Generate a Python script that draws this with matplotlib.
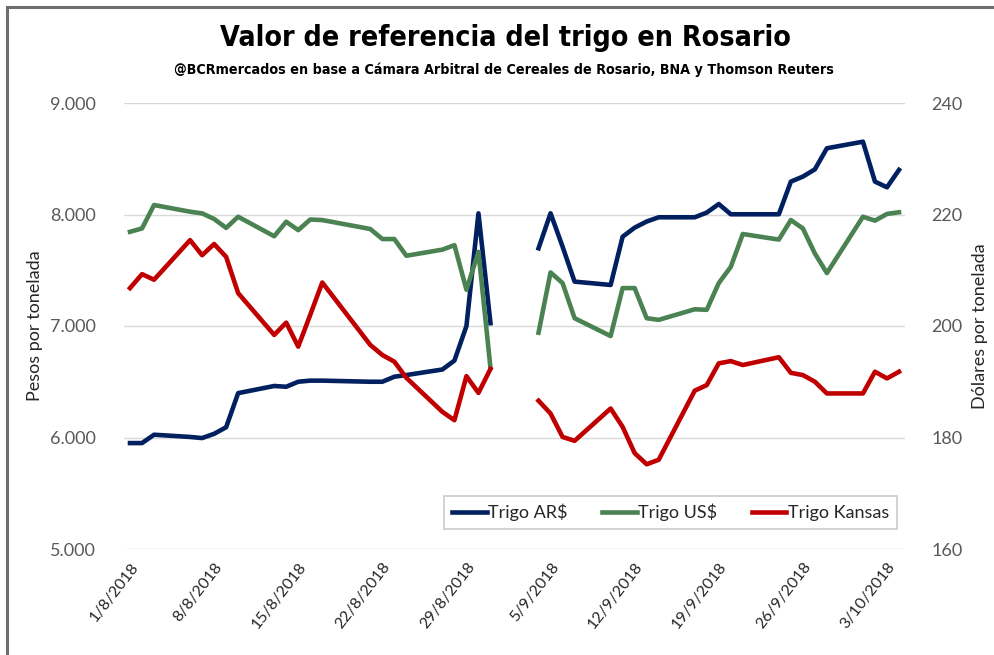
import numpy as np
import pandas as pd
import matplotlib
matplotlib.use("Agg")
import matplotlib.pyplot as plt
from matplotlib.lines import Line2D
from matplotlib.ticker import FuncFormatter

# business days shown in the chart (20/8 holiday, 3/9 no data -> gap)
FECHAS = ["1/8/2018", "2/8/2018", "3/8/2018", "6/8/2018", "7/8/2018", "8/8/2018",
          "9/8/2018", "10/8/2018", "13/8/2018", "14/8/2018", "15/8/2018", "16/8/2018",
          "17/8/2018", "21/8/2018", "22/8/2018", "23/8/2018", "24/8/2018", "27/8/2018",
          "28/8/2018", "29/8/2018", "30/8/2018", "31/8/2018", "3/9/2018",
          "4/9/2018", "5/9/2018", "6/9/2018", "7/9/2018", "10/9/2018", "11/9/2018",
          "12/9/2018", "13/9/2018", "14/9/2018", "17/9/2018", "18/9/2018", "19/9/2018",
          "20/9/2018", "21/9/2018", "24/9/2018", "25/9/2018", "26/9/2018", "27/9/2018",
          "28/9/2018", "1/10/2018", "2/10/2018", "3/10/2018", "4/10/2018"]

TRIGO_ARS = [5950, 5950, 6025, 6005, 5995, 6033, 6092, 6398, 6462, 6455, 6500, 6510,
             6510, 6500, 6500, 6545, 6560, 6610, 6690, 7000, 8010, 7025, np.nan,
             7697, 8011, 7712, 7398, 7368, 7801, 7882, 7937, 7975, 7975, 8017, 8094,
             8002, 8002, 8002, 8295, 8340, 8405, 8594, 8653, 8295, 8244, 8400]

TRIGO_USS = [216.9, 217.5, 221.7, 220.5, 220.2, 219.2, 217.6, 219.6, 216.1, 218.7,
             217.2, 219.1, 219.0, 217.4, 215.6, 215.6, 212.6, 213.7, 214.5, 206.5,
             213.3, 192.5, np.nan,
             198.8, 209.6, 207.7, 201.4, 198.2, 206.8, 206.8, 201.4, 201.1, 203.0,
             202.9, 207.7, 210.6, 216.5, 215.5, 219.0, 217.5, 213.0, 209.5, 219.6,
             218.9, 220.1, 220.4]

TRIGO_KANSAS = [206.8, 209.3, 208.3, 215.4, 212.7, 214.7, 212.4, 205.9, 198.4, 200.6,
                196.3, 202.0, 207.8, 196.6, 194.8, 193.6, 190.7, 184.6, 183.1, 191.0,
                188.0, 192.3, np.nan,
                186.6, 184.3, 180.1, 179.4, 185.2, 181.9, 177.2, 175.2, 176.0, 188.4,
                189.4, 193.3, 193.7, 193.0, 194.4, 191.6, 191.2, 190.0, 187.9, 187.9,
                191.8, 190.6, 191.8]

AZUL = "#002060"
VERDE = "#4a8252"
ROJO = "#c00000"
GRIS = "#595959"

plt.rcParams['font.family'] = ['Lato', 'DejaVu Sans']

fechas = pd.to_datetime(FECHAS, format="%d/%m/%Y")

fig = plt.figure(figsize=(9.95, 6.55), dpi=100)
ax = fig.add_axes([124/995, 1-549/655, 781/995, 446/655])
ax2 = ax.twinx()

l1, = ax.plot(fechas, TRIGO_ARS, color=AZUL, lw=3.3, label="Trigo AR$", solid_joinstyle='round')
l2, = ax2.plot(fechas, TRIGO_USS, color=VERDE, lw=3.3, label="Trigo US$", solid_joinstyle='round')
l3, = ax2.plot(fechas, TRIGO_KANSAS, color=ROJO, lw=3.3, label="Trigo Kansas", solid_joinstyle='round')

ax.set_ylim(5000, 9000)
ax2.set_ylim(160, 240)
ax.set_yticks([5000, 6000, 7000, 8000, 9000])
ax2.set_yticks([160, 180, 200, 220, 240])
ax.yaxis.set_major_formatter(FuncFormatter(lambda v, p: f"{int(v):,}".replace(",", ".")))

inicio = pd.Timestamp("2018-08-01")
ax.set_xlim(inicio - pd.Timedelta(hours=12), pd.Timestamp("2018-10-04") + pd.Timedelta(hours=12))
ticks = pd.date_range(inicio, periods=10, freq="7D")
ax.set_xticks(ticks)
ax.set_xticklabels([f"{d.day}/{d.month}/{d.year}" for d in ticks], rotation=52,
                   ha='right', rotation_mode='anchor', fontsize=11.5, color="#262626")

ax.grid(axis='y', color="#d9d9d9", lw=1)
ax.set_axisbelow(True)
for a in (ax, ax2):
    for s in a.spines.values():
        s.set_visible(False)
    a.tick_params(length=0)
ax.tick_params(axis='y', labelsize=13, labelcolor=GRIS, pad=20)
ax2.tick_params(axis='y', labelsize=13, labelcolor=GRIS, pad=19)
ax.tick_params(axis='x', pad=8)

ax.set_ylabel("Pesos por tonelada", fontsize=13, color="#262626", labelpad=5)
ax2.set_ylabel("Dólares por tonelada", fontsize=13, color="#262626", labelpad=7)

leg = ax.legend(handles=[l1, l2, l3], loc='center', bbox_to_anchor=(0.70, 0.082),
                ncol=3, fontsize=13, frameon=True, fancybox=False, edgecolor="#bfbfbf",
                handlelength=1.9, handletextpad=0.1, columnspacing=1.9,
                borderpad=0.45)
leg.get_frame().set_linewidth(1.2)
for t in leg.get_texts():
    t.set_color("#262626")

fig.text(0.508, 1-38/655, "Valor de referencia del trigo en Rosario", ha='center', va='center',
         fontsize=20.5, fontweight='bold', fontstretch='condensed',
         family=['Liberation Sans Narrow', 'DejaVu Sans'])
fig.text(0.506, 1-70/655, "@BCRmercados en base a Cámara Arbitral de Cereales de Rosario, BNA y Thomson Reuters",
         ha='center', va='center', fontsize=10.3, fontweight='bold', fontstretch='condensed',
         family=['Liberation Sans Narrow', 'DejaVu Sans'])

fig.add_artist(Line2D([7/995, 1], [1-7/655, 1-7/655], color="#6e6e6e", lw=2.2))
fig.add_artist(Line2D([7/995, 7/995], [0, 1-7/655], color="#6e6e6e", lw=2.2))

fig.savefig("out.png", dpi=100)
